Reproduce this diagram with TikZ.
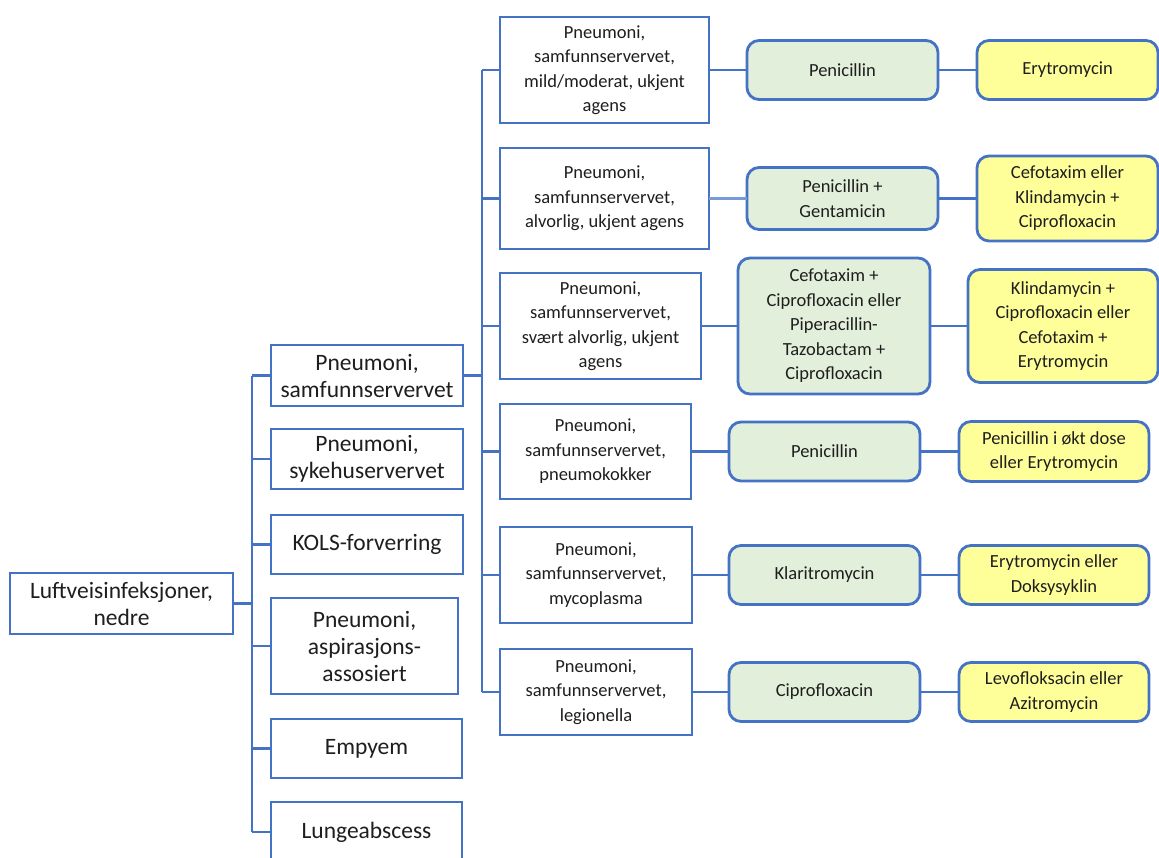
\documentclass[tikz,border=0pt]{standalone}
\usepackage{fontspec}
\setmainfont{Carlito}
\definecolor{bl}{RGB}{68,114,196}
\definecolor{bllight}{RGB}{120,155,215}
\definecolor{grn}{RGB}{226,239,218}
\definecolor{yel}{RGB}{255,255,153}
\definecolor{txt}{RGB}{30,30,30}
\tikzset{
  box/.style={draw=bl, line width=2.8pt, inner sep=0pt, outer sep=0pt, align=center, text=txt},
  big/.style={box, fill=white, font=\fontsize{23.5}{27}\selectfont},
  small/.style={box, fill=white, font=\fontsize{18.5}{24.5}\selectfont},
  grnbox/.style={small, fill=grn, rounded corners=12pt},
  yelbox/.style={small, fill=yel, rounded corners=12pt},
  conn/.style={draw=bl, line width=2.8pt},
}
\begin{document}
\begin{tikzpicture}[x=1pt,y=-1pt]
\useasboundingbox (0,0) rectangle (1159,857);
\clip (0,0) rectangle (1159,857);
\fill[white] (0,0) rectangle (1159,857);
\coordinate (t1) at (252,0);
\coordinate (t2) at (482,0);
% root
\node[big, minimum width=223pt, minimum height=61pt] (root) at (121.5,603.5) {Luftveisinfeksjoner,\\nedre};
% level 1
\node[big, minimum width=192pt, minimum height=61pt] (a1) at (367,375.5) {Pneumoni,\\samfunnservervet};
\node[big, minimum width=192pt, minimum height=60pt] (a2) at (367,459) {Pneumoni,\\sykehuservervet};
\node[big, minimum width=192pt, minimum height=59pt] (a3) at (367,544.5) {KOLS-forverring};
\node[big, minimum width=187pt, minimum height=96pt] (a4) at (364.5,646) {Pneumoni,\\aspirasjons-\\assosiert};
\node[big, minimum width=191pt, minimum height=59pt] (a5) at (366.5,748.5) {Empyem};
\node[big, minimum width=191pt, minimum height=60pt] (a6) at (366.5,832) {Lungeabscess};
% level 2
\node[small, minimum width=209pt, minimum height=106pt] (b1) at (604.5,70) {Pneumoni,\\samfunnservervet,\\mild/moderat, ukjent\\agens};
\node[small, minimum width=209pt, minimum height=101pt] (b2) at (604.5,198.5) {Pneumoni,\\samfunnservervet,\\alvorlig, ukjent agens};
\node[small, minimum width=201pt, minimum height=106pt] (b3) at (600.5,326) {Pneumoni,\\samfunnservervet,\\svært alvorlig, ukjent\\agens};
\node[small, minimum width=191pt, minimum height=95pt] (b4) at (595.5,451.5) {Pneumoni,\\samfunnservervet,\\pneumokokker};
\node[small, minimum width=192pt, minimum height=96pt] (b5) at (596,575) {Pneumoni,\\samfunnservervet,\\mycoplasma};
\node[small, minimum width=192pt, minimum height=86pt] (b6) at (596,692) {Pneumoni,\\samfunnservervet,\\legionella};
% level 3
\node[grnbox, minimum width=191pt, minimum height=59pt] (c1) at (842.5,70) {Penicillin};
\node[grnbox, minimum width=191pt, minimum height=62pt] (c2) at (842.5,198.5) {Penicillin +\\Gentamicin};
\node[grnbox, minimum width=192pt, minimum height=136pt] (c3) at (834,326) {Cefotaxim +\\Ciprofloxacin eller\\Piperacillin-\\Tazobactam +\\Ciprofloxacin};
\node[grnbox, minimum width=191pt, minimum height=59pt] (c4) at (824.5,451.5) {Penicillin};
\node[grnbox, minimum width=191pt, minimum height=59pt] (c5) at (824.5,575) {Klaritromycin};
\node[grnbox, minimum width=191pt, minimum height=59pt] (c6) at (824.5,692) {Ciprofloxacin};
% level 4
\node[yelbox, minimum width=181pt, minimum height=59pt] (d1) at (1067.5,70) {Erytromycin};
\node[yelbox, minimum width=181pt, minimum height=85pt] (d2) at (1067.5,198.5) {Cefotaxim eller\\Klindamycin +\\Ciprofloxacin};
\node[yelbox, minimum width=190pt, minimum height=113pt] (d3) at (1063,326) {Klindamycin +\\Ciprofloxacin eller\\Cefotaxim +\\Erytromycin};
\node[yelbox, minimum width=190pt, minimum height=60pt] (d4) at (1054,451.5) {Penicillin i økt dose\\eller Erytromycin};
\node[yelbox, minimum width=190pt, minimum height=59pt] (d5) at (1054,575) {Erytromycin eller\\Doksysyklin};
\node[yelbox, minimum width=190pt, minimum height=59pt] (d6) at (1054,692) {Levofloksacin eller\\Azitromycin};
% connectors level 0-1
\draw[conn] (root.east) -- (root.east -| t1);
\draw[conn] (a1.west -| t1) -- (a6.west -| t1);
\foreach \n in {a1,a2,a3,a4,a5,a6} \draw[conn] (\n.west -| t1) -- (\n.west);
% connectors level 1-2
\draw[conn] (a1.east) -- (a1.east -| t2);
\draw[conn] (b1.west -| t2) -- (b6.west -| t2);
\foreach \n in {b1,b2,b3,b4,b5,b6} \draw[conn] (\n.west -| t2) -- (\n.west);
% connectors level 2-3-4
\draw[conn] (b1.east) -- (c1.west);
\draw[conn, draw=bllight] (b2.east) -- (c2.west);
\draw[conn] (b3.east) -- (c3.west);
\draw[conn] (b4.east) -- (c4.west);
\draw[conn] (b5.east) -- (c5.west);
\draw[conn] (b6.east) -- (c6.west);
\draw[conn] (c1.east) -- (d1.west);
\draw[conn] (c2.east) -- (d2.west);
\draw[conn] (c3.east) -- (d3.west);
\draw[conn] (c4.east) -- (d4.west);
\draw[conn] (c5.east) -- (d5.west);
\draw[conn] (c6.east) -- (d6.west);
\end{tikzpicture}
\end{document}
